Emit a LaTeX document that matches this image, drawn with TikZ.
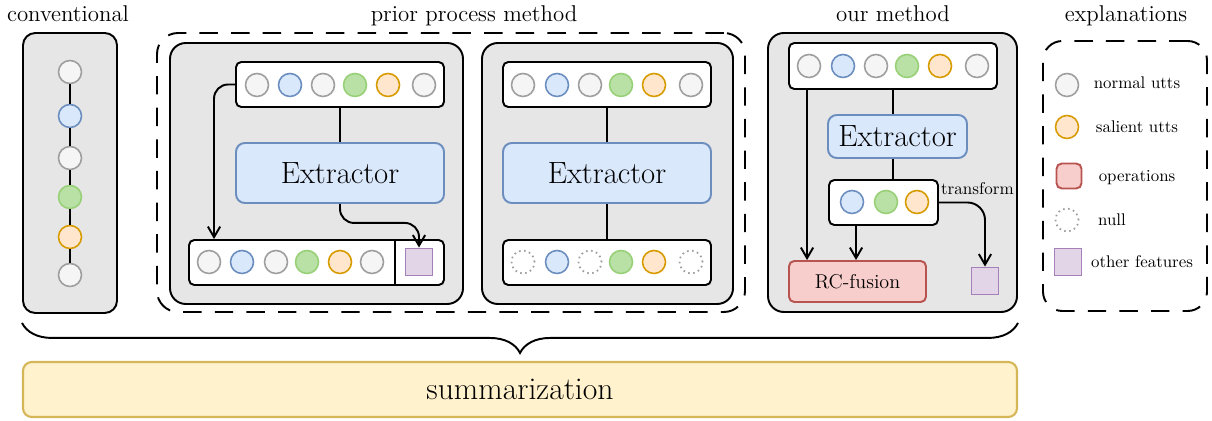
\documentclass[tikz,border=0pt]{standalone}
\usetikzlibrary{arrows.meta, fit, decorations.pathreplacing}

\definecolor{panelgray}{HTML}{E6E6E6}
\definecolor{nrmfill}{HTML}{F5F5F5}
\definecolor{nrmline}{HTML}{9E9E9E}
\definecolor{blufill}{HTML}{DAE8FC}
\definecolor{bluline}{HTML}{6C8EBF}
\definecolor{grnfill}{HTML}{B9E0A5}
\definecolor{grnline}{HTML}{97D077}
\definecolor{orgfill}{HTML}{FFE6CC}
\definecolor{orgline}{HTML}{D79B00}
\definecolor{purfill}{HTML}{E1D5E7}
\definecolor{purline}{HTML}{A680B8}
\definecolor{redfill}{HTML}{F8CECC}
\definecolor{redline}{HTML}{B85450}
\definecolor{ylwfill}{HTML}{FFF2CC}
\definecolor{ylwline}{HTML}{D6B656}

\tikzset{
  panel/.style={draw, line width=1.1pt, fill=panelgray, rounded corners=8pt, inner sep=0pt},
  seqbox/.style={draw, line width=1.1pt, fill=white, rounded corners=3pt, inner sep=0pt},
  extbox/.style={draw=bluline, line width=1.1pt, fill=blufill, rounded corners=5pt, inner sep=0pt},
  bigtext/.style={font=\fontsize{17.5}{20}\selectfont, inner sep=0pt},
  utt/.style={circle, line width=0.9pt, minimum size=0.46cm, inner sep=0pt},
  nrm/.style={utt, draw=nrmline, fill=nrmfill},
  blu/.style={utt, draw=bluline, fill=blufill},
  grn/.style={utt, draw=grnline, fill=grnfill},
  org/.style={utt, draw=orgline, fill=orgfill},
  nul/.style={utt, draw=nrmline, dotted, line width=1pt},
  feat/.style={draw=purline, fill=purfill, line width=1.1pt, minimum size=0.54cm, inner sep=0pt},
  oper/.style={draw=redline, fill=redfill, line width=1.1pt, rounded corners=3pt, minimum size=0.5cm, inner sep=0pt},
  arr/.style={line width=1.1pt, -{Straight Barb[length=6pt, width=7pt]}},
  link/.style={line width=1.1pt},
  title/.style={font=\fontsize{13}{15}\selectfont, anchor=base},
  legend/.style={font=\fontsize{9.6}{11}\selectfont, anchor=base},
  dashbox/.style={draw, line width=1.1pt, dash pattern=on 10.5pt off 7.5pt, inner sep=0pt},
}

\begin{document}
\begin{tikzpicture}[x=0.02cm, y=-0.02cm]
  \useasboundingbox (0,0) rectangle (1212,421);

  % titles
  \node[title] (t1) at (68,22) {conventional};
  \node[title] (t2) at (474,22) {prior process method};
  \node[title] (t3) at (893,22) {our method};
  \node[title] (t4) at (1126,22) {explanations};

  % conventional
  \node[panel, rounded corners=7pt, fit={(23,33) (117,313)}] (conv) {};
  \foreach \cy/\st [count=\i] in {72/nrm, 116/blu, 158/nrm, 197/grn, 237/org, 275/nrm}
    \node[\st] (cv\i) at (70,\cy) {};
  \foreach \i/\j in {1/2, 2/3, 3/4, 4/5, 5/6} \draw[link] (cv\i) -- (cv\j);

  % prior process method
  \node[dashbox, rounded corners=12pt, fit={(157,33) (745,312)}] (prior) {};

  % first prior panel
  \node[panel, rounded corners=9pt, fit={(170,43) (463,304)}] (p1) {};
  \node[seqbox, fit={(236,62) (444,107)}] (top1) {};
  \foreach \cx/\st [count=\i] in {257/nrm, 290/blu, 323/nrm, 355/grn, 388/org, 424/nrm}
    \node[\st] (a\i) at (\cx,85) {};
  \node[extbox, fit={(236,143) (444,203)}] (ext1) {};
  \node[bigtext] (ext1t) at (ext1.center) {Extractor};
  \node[seqbox, fit={(189,240) (444,285)}] (bot1) {};
  \draw[link] ([xshift=-1cm]bot1.north east) -- ([xshift=-1cm]bot1.south east);
  \foreach \cx/\st [count=\i] in {209/nrm, 242/blu, 276/nrm, 307/grn, 340/org, 372/nrm}
    \node[\st] (b\i) at (\cx,262) {};
  \node[feat] (sq1) at (419,262) {};
  \draw[link] (top1.south) -- (ext1.north);
  \draw[arr, rounded corners=8pt] (top1.west) -| ([xshift=0.52cm]bot1.north west);
  \draw[arr, rounded corners=8pt] (ext1.south) -- ++(0,19) -| (sq1.north);

  % second prior panel
  \node[panel, rounded corners=9pt, fit={(482,43) (733,304)}] (p2) {};
  \node[seqbox, fit={(503,62) (711,107)}] (top2) {};
  \foreach \cx/\st [count=\i] in {523/nrm, 557/blu, 590/nrm, 621/grn, 654/org, 691/nrm}
    \node[\st] (c\i) at (\cx,85) {};
  \node[extbox, fit={(503,143) (711,203)}] (ext2) {};
  \node[bigtext] (ext2t) at (ext2.center) {Extractor};
  \node[seqbox, fit={(503,240) (711,285)}] (bot2) {};
  \foreach \cx/\st [count=\i] in {523/nul, 557/blu, 590/nul, 621/grn, 654/org, 691/nul}
    \node[\st] (d\i) at (\cx,262) {};
  \draw[link] (top2.south) -- (ext2.north);
  \draw[link] (ext2.south) -- (bot2.north);

  % our method
  \node[panel, rounded corners=9pt, fit={(768,33) (1017,312)}] (ours) {};
  \node[seqbox, fit={(789,43) (997,89)}] (top3) {};
  \foreach \cx/\st [count=\i] in {809/nrm, 843/blu, 876/nrm, 907/grn, 940/org, 977/nrm}
    \node[\st] (e\i) at (\cx,66) {};
  \node[extbox, fit={(828,115) (967,158)}] (ext3) {};
  \node[bigtext] (ext3t) at (ext3.center) {Extractor};
  \node[seqbox, fit={(829,180) (938,225)}] (small3) {};
  \foreach \cx/\st [count=\i] in {852/blu, 886/grn, 917/org}
    \node[\st] (f\i) at (\cx,202) {};
  \node[oper, fit={(789,261) (926,302)}] (rc) {};
  \node[font=\fontsize{11.4}{13}\selectfont, inner sep=0pt] (rct) at (rc.center) {RC-fusion};
  \node[feat] (sq3) at (985,281) {};
  \draw[link] (top3.south) -- (top3.south |- ext3.north);
  \draw[link] (top3.south |- ext3.south) -- (top3.south |- small3.north);
  \draw[arr] ([xshift=0.38cm]top3.south west) -- ([xshift=0.38cm]top3.south west |- rc.north);
  \draw[arr] ([xshift=0.56cm]small3.south west) -- ([xshift=0.56cm]small3.south west |- rc.north);
  \draw[arr, rounded corners=10pt] (small3.east) -| (sq3.north);
  \node[anchor=west, inner sep=1pt, font=\fontsize{9.7}{11}\selectfont] (tf)
    at ([yshift=0.27cm]small3.east) {transform};

  % explanations
  \node[dashbox, rounded corners=11pt, fit={(1043,41) (1207,311)}] (legbox) {};
  \node[nrm] (l1) at (1067,85) {};
  \node[legend] (l1t) at (1137,89) {normal utts};
  \node[org] (l2) at (1067,127) {};
  \node[legend] (l2t) at (1137,133) {salient utts};
  \node[oper] (l3) at (1069,176) {};
  \node[legend] (l3t) at (1137,182) {operations};
  \node[nul] (l4) at (1067,220) {};
  \node[legend] (l4t) at (1112,226) {null};
  \node[feat] (l5) at (1068,262) {};
  \node[legend] (l5t) at (1142,268) {other features};

  % summarization
  \draw[line width=1.1pt, decorate, decoration={brace, mirror, amplitude=0.6cm}]
    ([yshift=-0.18cm]conv.south west) -- ([yshift=-0.18cm]conv.south west -| ours.south east);
  \node[draw=ylwline, fill=ylwfill, line width=1.2pt, rounded corners=5pt, inner sep=0pt,
    fit={(23,362) (1017,417)}] (summ) {};
  \node[font=\fontsize{18}{21}\selectfont, inner sep=0pt] (summt) at (summ.center) {summarization};
\end{tikzpicture}
\end{document}
